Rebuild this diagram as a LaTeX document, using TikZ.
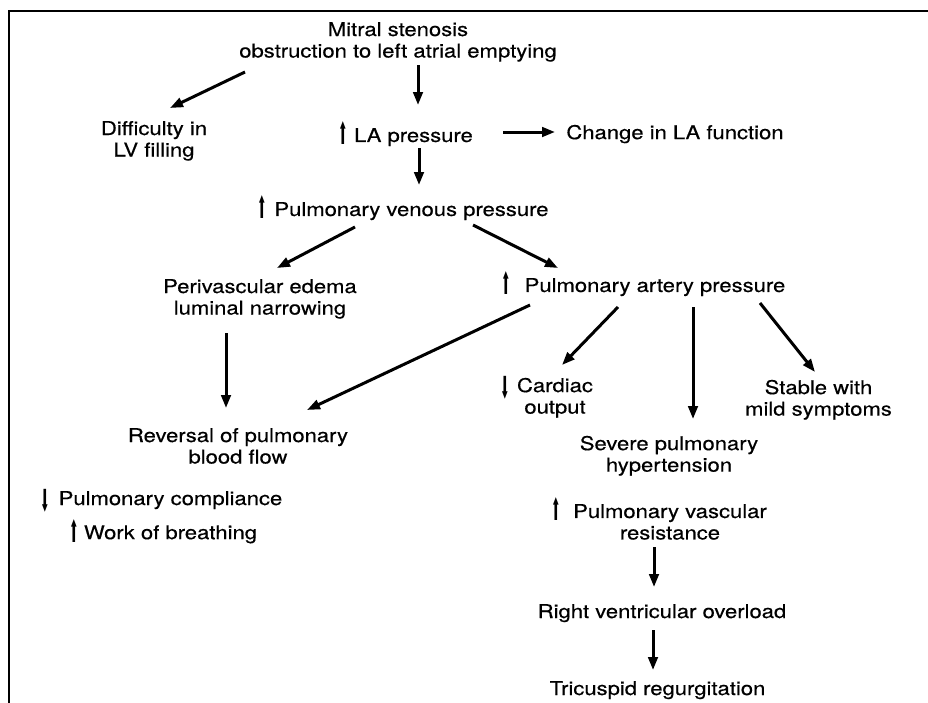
\documentclass[tikz,border=0pt]{standalone}
\usepackage{fontspec}
\usepackage{graphicx}
\setmainfont{TeX Gyre Heros}[FakeStretch=1.16,FakeBold=0.4]
\newfontfamily\arrowfont{DejaVu Sans}
\usetikzlibrary{arrows.meta,calc}
\newcommand\tstr{\rule{0pt}{14pt}}
\newcommand\bstr{\rule[-5pt]{0pt}{5pt}}
\newcommand\upa[1]{\llap{\raisebox{-3pt}{\scalebox{0.6}[1.6]{\arrowfont\fontsize{19}{19}\selectfont ⬆}}\hspace{#1}}}
\newcommand\dna[1]{\llap{\raisebox{-6pt}{\scalebox{0.6}[1.6]{\arrowfont\fontsize{19}{19}\selectfont ⬇}}\hspace{#1}}}
\tikzset{
  lbl/.style={inner sep=0pt, align=center, anchor=center,
    font=\fontsize{19}{21.5}\selectfont},
  conn/.style={line width=3pt, -{Triangle[length=13pt,width=9.5pt]}},
  frame/.style={line width=2.5pt}
}
\begin{document}
\begin{tikzpicture}[x=1pt,y=-1pt]
\useasboundingbox (0,0) rectangle (928,702);
\draw[frame] (9,710) -- (9,11) -- (935,11);

\node[lbl] (title) at (398,42.25) {\tstr Mitral stenosis\\obstruction to left atrial emptying\bstr};
\node[lbl] (diff) at (154,141.25) {\tstr Difficulty in\\LV filling\bstr};
\node[lbl] (la) at (413.5,134.5) {\tstr\upa{6pt}LA pressure\bstr};
\node[lbl] (change) at (675,134.5) {\tstr Change in LA function\bstr};
\node[lbl] (pvp) at (411.5,208.5) {\tstr\upa{7pt}Pulmonary venous pressure\bstr};
\node[lbl] (peri) at (260,299.25) {\tstr Perivascular edema\\luminal narrowing\bstr};
\node[lbl] (pap) at (655,284.5) {\tstr\upa{14pt}Pulmonary artery pressure\bstr};
\node[lbl] (card) at (555,397.25) {\tstr\dna{7pt}Cardiac\\output\bstr};
\node[lbl] (stable) at (818.5,400.25) {\tstr Stable with\\mild symptoms\bstr};
\node[lbl] (severe) at (669,456.25) {\tstr Severe pulmonary\\hypertension\bstr};
\node[lbl] (rev) at (238,448.25) {\tstr Reversal of pulmonary\\blood flow\bstr};
\node[lbl] (comp) at (170.5,516.5) {\tstr\dna{9pt}Pulmonary compliance\\[6.5pt]\upa{5pt}Work of breathing\bstr};
\node[lbl] (pvr) at (670,521.25) {\tstr\upa{12pt}Pulmonary vascular\\resistance\bstr};
\node[lbl] (rvo) at (662,613.5) {\tstr Right ventricular overload\bstr};
\node[lbl] (tr) at (657.5,690.5) {\tstr Tricuspid regurgitation\bstr};

\draw[conn] ($(title)+(-153,29.75)$) -- ($(diff)+(16,-33.25)$);
\draw[conn] ($(title)+(20,22.75)$) -- ($(la)+(4.5,-29.5)$);
\draw[conn] ($(la)+(89.5,-2.5)$) -- ($(change)+(-120,-2.5)$);
\draw[conn] ($(la)+(5.5,13.5)$) -- ($(pvp)+(7.5,-23.5)$);
\draw[conn] ($(pvp)+(-56.5,18.5)$) -- ($(peri)+(17,-31.25)$);
\draw[conn] ($(pvp)+(61.5,16.5)$) -- ($(pap)+(-97,-16.5)$);
\draw[conn] ($(peri)+(-34,33.75)$) -- ($(rev)+(-12,-40.25)$);
\draw[conn] ($(pap)+(-125,20.5)$) -- ($(rev)+(69,-38.25)$);
\draw[conn] ($(pap)+(-37,22.5)$) -- ($(card)+(7,-32.25)$);
\draw[conn] ($(pap)+(38,22.5)$) -- ($(severe)+(24,-37.25)$);
\draw[conn] ($(pap)+(105,18.5)$) -- ($(stable)+(-3.5,-28.25)$);
\draw[conn] ($(pvr)+(-16,25.75)$) -- ($(rvo)+(-8,-26.5)$);
\draw[conn] ($(rvo)+(-9,16.5)$) -- ($(tr)+(-4.5,-20.5)$);
\end{tikzpicture}
\end{document}
